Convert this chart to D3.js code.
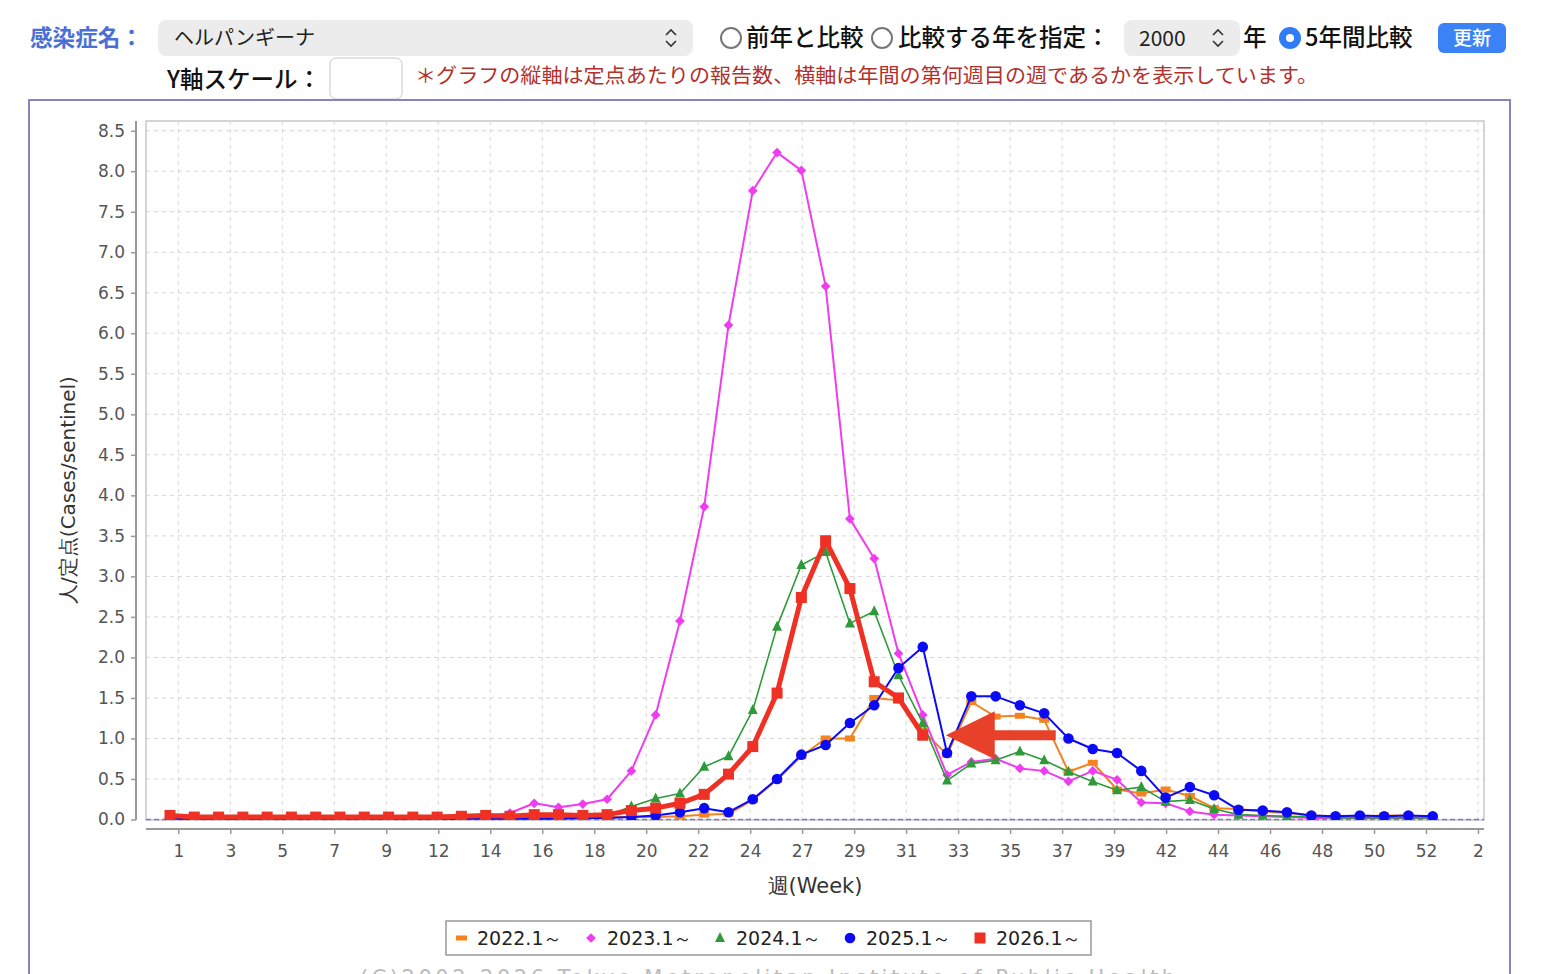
<!DOCTYPE html>
<html>
<head>
<meta charset="utf-8">
<script src="https://cdn.jsdelivr.net/npm/d3@7"></script>
<style>
  body { margin: 0; background: #fff; }
  svg { display: block; }
</style>
</head>
<body>
<svg id="chart" width="1544" height="974"></svg>
<script>
// week labels shown on the category axis
var weekLabels = ["1","3","5","7","9","12","14","16","18","20","22","24","27","29","31","33","35","37","39","42","44","46","48","50","52","2"];

// cases per sentinel, one value per week (index 0 = first week)
var s2022 = [0.07,0.02,0.02,0.02,0.02,0.02,0.02,0.02,0.02,0.02,
             0.02,0.02,0.02,0.02,0.02,0.03,0.02,0.02,0.03,0.03,
             0.03,0.04,0.06,0.07,0.24,0.49,0.78,1.00,1.00,1.50,
             1.47,1.10,0.80,1.45,1.27,1.28,1.23,0.59,0.70,0.37,
             0.32,0.37,0.29,0.14,0.13,0.10,0.08,0.05,0.04,0.04,
             0.05,0.05,0.03];
var s2023 = [0.02,0.01,0.01,0.01,0.01,0.01,0.01,0.01,0.01,0.01,
             0.01,0.02,0.03,0.04,0.08,0.20,0.15,0.19,0.25,0.60,
             1.29,2.45,3.86,6.10,7.76,8.23,8.01,6.58,3.71,3.22,
             2.05,1.29,0.55,0.71,0.75,0.63,0.60,0.47,0.60,0.49,
             0.21,0.20,0.10,0.06,0.05,0.04,0.03,0.02,0.02,0.02,
             0.02,0.02,0.02];
var s2024 = [0.02,0.02,0.02,0.02,0.02,0.02,0.02,0.02,0.02,0.02,
             0.02,0.02,0.02,0.02,0.02,0.03,0.03,0.03,0.05,0.16,
             0.26,0.32,0.65,0.78,1.35,2.38,3.14,3.30,2.42,2.57,
             1.78,1.19,0.48,0.69,0.73,0.84,0.73,0.59,0.47,0.36,
             0.40,0.22,0.24,0.13,0.06,0.05,0.04,0.03,0.02,0.02,
             0.02,0.02,0.02];
var s2025 = [0.01,0.01,0.01,0.01,0.01,0.01,0.01,0.01,0.01,0.01,
             0.01,0.01,0.01,0.01,0.01,0.01,0.01,0.02,0.02,0.03,
             0.05,0.09,0.14,0.09,0.25,0.50,0.80,0.92,1.19,1.41,
             1.87,2.13,0.82,1.52,1.52,1.41,1.31,1.00,0.87,0.82,
             0.60,0.27,0.40,0.30,0.12,0.11,0.09,0.05,0.04,0.05,
             0.04,0.05,0.04];
var s2026 = [0.05,0.03,0.03,0.03,0.03,0.03,0.03,0.03,0.03,0.03,
             0.03,0.03,0.04,0.05,0.04,0.06,0.06,0.05,0.06,0.11,
             0.14,0.20,0.31,0.56,0.90,1.56,2.74,3.44,2.85,1.70,
             1.50,1.04];

var seriesNames = ["2022.1～","2023.1～","2024.1～","2025.1～","2026.1～"];
var seriesColors = ["#f5821f","#f03cf0","#2e9a3a","#0a0af5","#ee3124"];
var seriesShapes = ["hrect","diamond","triangle","circle","square"];
var seriesWidths = [2, 2, 1.6, 2, 5];
var allSeries = [s2022, s2023, s2024, s2025, s2026];

var svg = d3.select("#chart");
var uiFont = "'Noto Sans CJK JP', 'Noto Sans', sans-serif";
var chartFont = "'DejaVu Sans', sans-serif";

// ---------- form controls across the top ----------
function chevrons(g, cx, cy)
{
    g.append("path").attr("d", "M" + (cx-5) + "," + (cy-3) + " L" + cx + "," + (cy-8) + " L" + (cx+5) + "," + (cy-3))
	.attr("fill", "none").attr("stroke", "#333").attr("stroke-width", 1.6);
    g.append("path").attr("d", "M" + (cx-5) + "," + (cy+3) + " L" + cx + "," + (cy+8) + " L" + (cx+5) + "," + (cy+3))
	.attr("fill", "none").attr("stroke", "#333").attr("stroke-width", 1.6);
}

var ui = svg.append("g").attr("font-family", uiFont).attr("font-weight", 500);

ui.append("text").attr("x", 30).attr("y", 46).text("感染症名：")
    .attr("font-size", 22.6).attr("font-weight", "bold").attr("fill", "#4a70d8");

ui.append("rect").attr("x", 158).attr("y", 20).attr("width", 535).attr("height", 36)
    .attr("rx", 8).attr("fill", "#ececec");
ui.append("text").attr("x", 174).attr("y", 45).text("ヘルパンギーナ")
    .attr("font-size", 20).attr("font-weight", 400).attr("fill", "#222");
chevrons(ui, 671, 38);

ui.append("circle").attr("cx", 731).attr("cy", 38).attr("r", 10)
    .attr("fill", "#fff").attr("stroke", "#777").attr("stroke-width", 2);
ui.append("text").attr("x", 746).attr("y", 46).text("前年と比較")
    .attr("font-size", 23.5).attr("fill", "#111");

ui.append("circle").attr("cx", 882).attr("cy", 38).attr("r", 10)
    .attr("fill", "#fff").attr("stroke", "#777").attr("stroke-width", 2);
ui.append("text").attr("x", 898).attr("y", 46).text("比較する年を指定：")
    .attr("font-size", 23.5).attr("fill", "#111");

ui.append("rect").attr("x", 1124).attr("y", 20).attr("width", 116).attr("height", 36)
    .attr("rx", 8).attr("fill", "#ececec");
ui.append("text").attr("x", 1139).attr("y", 46).text("2000")
    .attr("font-size", 21).attr("font-weight", 400).attr("fill", "#222");
chevrons(ui, 1218, 38);

ui.append("text").attr("x", 1243).attr("y", 46).text("年")
    .attr("font-size", 23.5).attr("fill", "#111");
ui.append("circle").attr("cx", 1290).attr("cy", 38).attr("r", 11).attr("fill", "#2f7cf6");
ui.append("circle").attr("cx", 1290).attr("cy", 38).attr("r", 4).attr("fill", "#fff");
ui.append("text").attr("x", 1305).attr("y", 46).text("5年間比較")
    .attr("font-size", 23.5).attr("fill", "#111");

ui.append("rect").attr("x", 1438).attr("y", 23).attr("width", 68).attr("height", 30)
    .attr("rx", 6).attr("fill", "#3b82f6");
ui.append("text").attr("x", 1472).attr("y", 45).text("更新").attr("text-anchor", "middle")
    .attr("font-size", 19).attr("fill", "#fff");

ui.append("text").attr("x", 167).attr("y", 88).text("Y軸スケール：")
    .attr("font-size", 23.5).attr("fill", "#111");
ui.append("rect").attr("x", 330).attr("y", 58).attr("width", 72).attr("height", 41)
    .attr("rx", 6).attr("fill", "#fff").attr("stroke", "#c8c8c8");
ui.append("text").attr("x", 415).attr("y", 83)
    .text("＊グラフの縦軸は定点あたりの報告数、横軸は年間の第何週目の週であるかを表示しています。")
    .attr("font-size", 20).attr("font-weight", 400).attr("fill", "#b3302b")
    .attr("textLength", 903).attr("lengthAdjust", "spacingAndGlyphs");

// outer frame of the chart panel
svg.append("rect").attr("x", 29).attr("y", 100).attr("width", 1481).attr("height", 900)
    .attr("fill", "none").attr("stroke", "#8585c2").attr("stroke-width", 2);

// ---------- plot ----------
var plotL = 146, plotR = 1484, plotT = 121, plotB = 820;

var x = d3.scaleLinear().domain([0, 52]).range([170, 1432.7]);
var xTick = d3.scaleLinear().domain([0, weekLabels.length - 1]).range([178.3, 1478]);
var y = d3.scaleLinear().domain([0, 8.5]).range([819.5, 130.7]);
var yTicks = d3.range(0, 8.5001, 0.5);

svg.append("defs").append("clipPath").attr("id", "plotClip")
    .append("rect").attr("x", plotL).attr("y", plotT)
    .attr("width", plotR - plotL).attr("height", plotB - plotT);

svg.append("rect").attr("x", plotL).attr("y", plotT)
    .attr("width", plotR - plotL).attr("height", plotB - plotT)
    .attr("fill", "#fff").attr("stroke", "#c8c8c8").attr("stroke-width", 1.5);

var grid = svg.append("g").attr("stroke", "#d6d6d6").attr("stroke-width", 1)
    .attr("stroke-dasharray", "4,4");
grid.selectAll("line.h").data(yTicks.slice(1)).enter().append("line")
    .attr("x1", plotL).attr("x2", plotR)
    .attr("y1", function(d) { return y(d); }).attr("y2", function(d) { return y(d); });
grid.selectAll("line.v").data(weekLabels).enter().append("line")
    .attr("y1", plotT).attr("y2", plotB)
    .attr("x1", function(d, i) { return xTick(i); }).attr("x2", function(d, i) { return xTick(i); });

// zero marker line
svg.append("line").attr("x1", plotL).attr("x2", plotR).attr("y1", y(0)).attr("y2", y(0))
    .attr("stroke", "#7c7cc4").attr("stroke-width", 1.5).attr("stroke-dasharray", "5,3");

// y axis
var yAxis = d3.axisLeft(y).tickValues(yTicks).tickFormat(d3.format(".1f"))
    .tickSize(5).tickPadding(6);
var yG = svg.append("g").attr("transform", "translate(136,0)").call(yAxis);
yG.select(".domain").attr("stroke", "#999").attr("stroke-width", 2)
    .attr("d", "M0," + plotT + "V" + plotB);
yG.selectAll(".tick line").attr("stroke", "#999").attr("stroke-width", 1.5);
yG.selectAll(".tick text").attr("font-family", chartFont).attr("font-size", 17).attr("fill", "#555");

// x axis (category labels)
var xAxis = d3.axisBottom(xTick).tickValues(d3.range(weekLabels.length))
    .tickFormat(function(d) { return weekLabels[d]; }).tickSize(5).tickPadding(11);
var xG = svg.append("g").attr("transform", "translate(0,829)").call(xAxis);
xG.select(".domain").attr("stroke", "#999").attr("stroke-width", 2)
    .attr("d", "M" + plotL + ",0H" + plotR);
xG.selectAll(".tick line").attr("stroke", "#999").attr("stroke-width", 1.5);
xG.selectAll(".tick text").attr("font-family", chartFont).attr("font-size", 17).attr("fill", "#555");

svg.append("text").attr("x", 815).attr("y", 893).attr("text-anchor", "middle")
    .attr("font-family", chartFont).attr("font-size", 21).attr("fill", "#333").text("週(Week)");
svg.append("text").attr("transform", "translate(75,490) rotate(-90)").attr("text-anchor", "middle")
    .attr("font-family", chartFont).attr("font-size", 20).attr("fill", "#333")
    .text("人/定点(Cases/sentinel)");

// marker shapes
function drawShape(g, shape, cx, cy, color)
{
    if (shape == "hrect")
	g.append("rect").attr("x", cx - 5).attr("y", cy - 3).attr("width", 10).attr("height", 6).attr("fill", color);
    else if (shape == "diamond")
	g.append("path").attr("d", d3.symbol(d3.symbolDiamond2, 60)()).attr("transform", "translate(" + cx + "," + cy + ")").attr("fill", color);
    else if (shape == "triangle")
	g.append("path").attr("d", "M" + cx + "," + (cy - 6) + "L" + (cx + 5) + "," + (cy + 4) + "L" + (cx - 5) + "," + (cy + 4) + "Z").attr("fill", color);
    else if (shape == "circle")
	g.append("circle").attr("cx", cx).attr("cy", cy).attr("r", 5.3).attr("fill", color);
    else
	g.append("rect").attr("x", cx - 5.5).attr("y", cy - 5.5).attr("width", 11).attr("height", 11).attr("fill", color);
}

var plotG = svg.append("g").attr("clip-path", "url(#plotClip)");
var line = d3.line().x(function(d, i) { return x(i); }).y(function(d) { return y(d); });

for (let k = 0; k < allSeries.length; k++)
{
    let g = plotG.append("g");
    g.append("path").attr("d", line(allSeries[k])).attr("fill", "none")
	.attr("stroke", seriesColors[k]).attr("stroke-width", seriesWidths[k])
	.attr("stroke-linejoin", "round");
    allSeries[k].forEach(function(v, i) {
	drawShape(g, seriesShapes[k], x(i), y(v), seriesColors[k]);
    });
}

// arrow pointing at the latest week of the current season
var lastI = s2026.length - 1;
var tipX = x(lastI) + 23, tipY = y(s2026[lastI]);
svg.append("path")
    .attr("d", "M" + tipX + "," + tipY +
	  " L" + (tipX + 49) + "," + (tipY - 24) +
	  " L" + (tipX + 49) + "," + (tipY - 5) +
	  " L" + (tipX + 110) + "," + (tipY - 5) +
	  " L" + (tipX + 110) + "," + (tipY + 5) +
	  " L" + (tipX + 49) + "," + (tipY + 5) +
	  " L" + (tipX + 49) + "," + (tipY + 24) + " Z")
    .attr("fill", "#e8412a");

// legend
var legend = svg.append("g");
legend.append("rect").attr("x", 446).attr("y", 921).attr("width", 645).attr("height", 34)
    .attr("fill", "#fff").attr("stroke", "#999").attr("stroke-width", 1.5);
var legX = [461, 591, 720, 850, 980];
for (let k = 0; k < seriesNames.length; k++)
{
    if (seriesShapes[k] == "hrect")
	legend.append("rect").attr("x", legX[k] - 5).attr("y", 935.5).attr("width", 11).attr("height", 5).attr("fill", seriesColors[k]);
    else
	drawShape(legend, seriesShapes[k], legX[k], 938, seriesColors[k]);
    legend.append("text").attr("x", legX[k] + 16).attr("y", 945).text(seriesNames[k])
	.attr("font-family", chartFont).attr("font-size", 19).attr("fill", "#222");
}

// copyright line, cut by the bottom edge as in the page screenshot
svg.append("text").attr("x", 360).attr("y", 985)
    .text("(C)2002-2026 Tokyo Metropolitan Institute of Public Health")
    .attr("font-family", chartFont).attr("font-size", 21).attr("fill", "#bbb")
    .attr("textLength", 815).attr("lengthAdjust", "spacing");
</script>
</body>
</html>
